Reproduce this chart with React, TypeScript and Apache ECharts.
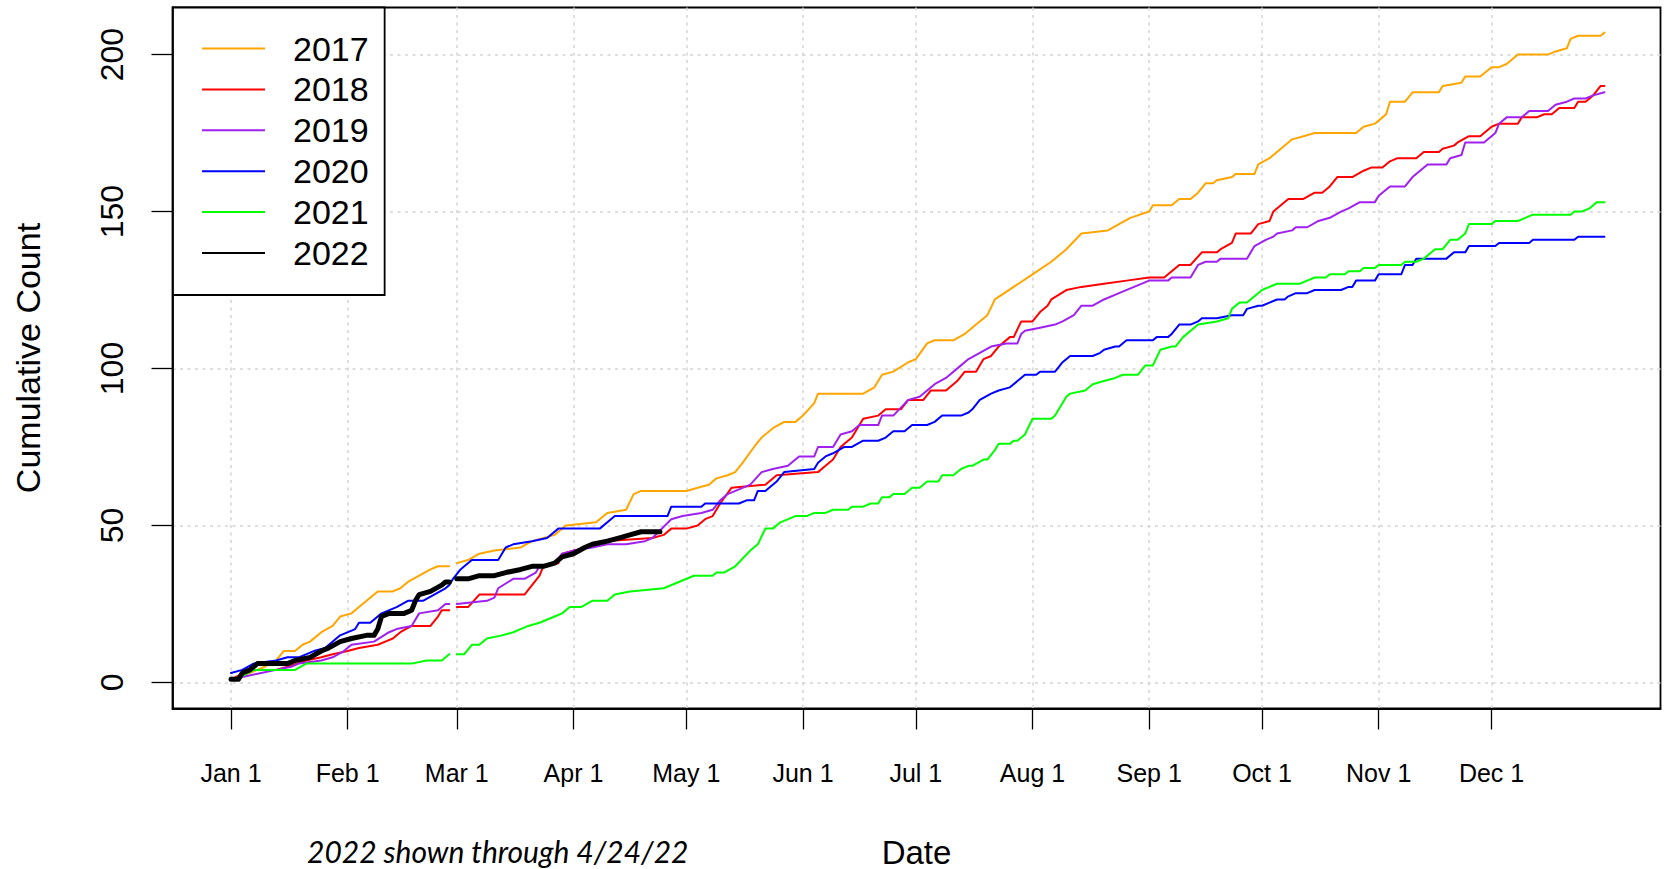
import React, { useEffect, useRef } from "react";
import * as echarts from "echarts";

// Day index within a leap-year calendar (Jan 1 = 0). Non-leap years have no Feb 29 (day 59).
const monthTickDays = [0, 31, 60, 91, 121, 152, 182, 213, 244, 274, 305, 335];
const monthTickLabels = ["Jan 1", "Feb 1", "Mar 1", "Apr 1", "May 1", "Jun 1", "Jul 1", "Aug 1", "Sep 1", "Oct 1", "Nov 1", "Dec 1"];
const yTicks = [0, 50, 100, 150, 200];
const years = ["2017", "2018", "2019", "2020", "2021", "2022"];

const data2017 = [
  [0, 1], [5, 3], [9, 5], [12, 7], [14, 10], [17, 10], [19, 12], [21, 13], [24, 16], [27, 18], [29, 21], [32, 22], [34, 24], [37, 27], [39, 29], [43, 29], [45, 30], [47, 32], [50, 34], [53, 36], [55, 37], [58, 37], [59, null],
  [60, 38], [63, 39], [66, 41], [70, 42], [77, 43], [80, 45], [86, 47], [89, 50], [97, 51], [100, 54], [105, 55], [107, 60], [109, 61], [121, 61], [124, 62], [127, 63], [129, 65], [132, 66], [134, 67], [136, 70], [139, 75], [141, 78], [144, 81], [147, 83], [150, 83], [152, 85], [155, 89], [156, 92], [168, 92], [171, 94], [173, 98], [176, 99], [180, 102], [182, 103], [185, 108], [187, 109], [192, 109], [195, 111], [198, 114], [201, 117], [203, 122], [208, 126], [213, 130], [218, 134], [222, 138], [226, 143], [233, 144], [239, 148], [244, 150], [245, 152], [250, 152], [252, 154], [255, 154], [257, 156], [259, 159], [261, 159], [262, 160], [266, 161], [267, 162], [272, 162], [273, 165], [276, 167], [279, 170], [282, 173], [285, 174], [288, 175], [299, 175], [301, 177], [304, 178], [306, 180], [307, 181], [308, 185], [312, 185], [314, 188], [321, 188], [322, 190], [327, 191], [328, 193], [332, 193], [335, 196], [337, 196], [339, 197], [342, 200], [350, 200], [352, 201], [355, 202], [356, 205], [358, 206], [364, 206], [365, 207]
];

const data2018 = [
  [0, 1], [5, 4], [12, 4], [15, 5], [20, 7], [24, 8], [27, 9], [31, 10], [34, 11], [39, 12], [41, 13], [43, 14], [45, 16], [48, 18], [53, 18], [55, 21], [56, 23], [58, 23], [59, null],
  [60, 24], [63, 24], [66, 28], [78, 28], [80, 31], [82, 34], [83, 37], [87, 38], [88, 41], [91, 42], [95, 43], [96, 44], [99, 45], [112, 46], [115, 47], [117, 49], [121, 49], [124, 50], [126, 52], [128, 53], [130, 57], [133, 62], [142, 63], [145, 66], [156, 67], [158, 69], [160, 71], [162, 75], [165, 78], [168, 84], [172, 85], [174, 87], [178, 87], [180, 90], [184, 90], [186, 93], [190, 93], [193, 96], [195, 99], [198, 99], [200, 103], [202, 104], [204, 107], [207, 110], [208, 110], [210, 115], [213, 115], [215, 118], [217, 120], [218, 122], [222, 125], [226, 126], [232, 127], [238, 128], [244, 129], [248, 129], [250, 131], [252, 133], [255, 133], [258, 137], [262, 137], [263, 138], [266, 140], [267, 143], [271, 143], [273, 146], [276, 147], [277, 150], [281, 154], [285, 154], [288, 156], [290, 156], [292, 158], [294, 161], [298, 161], [301, 163], [303, 164], [306, 164], [308, 166], [310, 167], [315, 167], [317, 169], [321, 169], [322, 170], [325, 171], [326, 172], [329, 174], [332, 174], [335, 177], [337, 178], [342, 178], [343, 180], [347, 180], [349, 181], [351, 181], [353, 183], [357, 183], [358, 185], [360, 185], [362, 187], [364, 190], [365, 190]
];

const data2019 = [
  [0, 1], [4, 2], [8, 3], [12, 4], [16, 5], [18, 6], [24, 7], [27, 8], [30, 10], [32, 12], [38, 13], [42, 16], [44, 17], [48, 18], [50, 22], [55, 23], [57, 25], [58, 25], [59, null],
  [60, 25], [68, 26], [70, 27], [71, 30], [75, 33], [78, 33], [81, 35], [82, 37], [86, 38], [88, 41], [91, 42], [96, 43], [100, 44], [105, 44], [110, 45], [112, 46], [117, 52], [120, 53], [125, 54], [128, 55], [130, 58], [132, 60], [138, 63], [141, 67], [144, 68], [148, 69], [150, 71], [151, 72], [155, 72], [156, 75], [160, 75], [162, 79], [165, 80], [167, 82], [172, 82], [173, 85], [176, 85], [180, 90], [183, 91], [187, 95], [190, 97], [194, 101], [196, 103], [199, 105], [202, 107], [206, 108], [209, 108], [210, 111], [211, 112], [215, 113], [219, 114], [221, 115], [224, 117], [226, 120], [229, 120], [232, 122], [236, 124], [240, 126], [244, 128], [249, 128], [250, 129], [255, 129], [257, 133], [259, 134], [262, 134], [263, 135], [270, 135], [272, 139], [275, 141], [277, 142], [278, 143], [282, 144], [283, 145], [286, 145], [289, 147], [292, 148], [295, 150], [297, 151], [300, 153], [304, 153], [305, 155], [308, 158], [312, 158], [314, 161], [316, 163], [318, 165], [323, 165], [324, 167], [327, 168], [328, 172], [333, 172], [336, 175], [337, 178], [339, 180], [343, 180], [345, 182], [350, 182], [352, 184], [355, 185], [357, 186], [360, 186], [362, 187], [365, 188]
];

const data2020 = [
  [0, 3], [3, 4], [6, 6], [12, 7], [15, 8], [18, 8], [22, 10], [25, 11], [29, 15], [33, 17], [34, 19], [37, 19], [40, 22], [44, 24], [47, 26], [51, 26], [54, 28], [57, 30], [58, 31], [59, 33], [61, 36], [62, 37], [64, 39], [71, 39], [73, 43], [75, 44], [80, 45], [84, 46], [87, 49], [98, 49], [102, 53], [116, 53], [117, 56], [125, 56], [126, 57], [135, 57], [137, 58], [139, 58], [140, 61], [142, 61], [145, 64], [147, 67], [155, 68], [156, 70], [158, 72], [160, 73], [163, 75], [165, 75], [168, 77], [172, 77], [174, 78], [176, 80], [179, 80], [181, 82], [185, 82], [187, 83], [189, 85], [194, 85], [196, 86], [197, 87], [199, 90], [202, 92], [204, 93], [207, 94], [211, 98], [214, 98], [215, 99], [219, 99], [221, 102], [223, 104], [229, 104], [231, 105], [232, 106], [235, 107], [236, 107], [238, 109], [245, 109], [246, 110], [249, 110], [250, 111], [252, 114], [255, 114], [257, 115], [258, 116], [262, 116], [266, 117], [269, 117], [270, 119], [273, 120], [274, 120], [276, 121], [278, 122], [280, 122], [281, 123], [283, 124], [286, 124], [288, 125], [295, 125], [297, 126], [298, 126], [299, 128], [304, 128], [305, 130], [311, 130], [312, 133], [314, 133], [315, 135], [323, 135], [325, 137], [328, 137], [329, 139], [336, 139], [337, 140], [345, 140], [346, 141], [357, 141], [358, 142], [365, 142]
];

const data2021 = [
  [0, 1], [3, 2], [6, 4], [17, 4], [20, 6], [48, 6], [52, 7], [56, 7], [58, 9], [59, null],
  [60, 9], [62, 9], [64, 12], [66, 12], [68, 14], [72, 15], [75, 16], [79, 18], [82, 19], [86, 21], [88, 22], [90, 24], [93, 24], [96, 26], [100, 26], [102, 28], [106, 29], [115, 30], [119, 32], [123, 34], [128, 34], [129, 35], [131, 35], [134, 37], [138, 42], [140, 44], [142, 49], [144, 49], [146, 51], [150, 53], [153, 53], [155, 54], [158, 54], [160, 55], [164, 55], [165, 56], [168, 56], [170, 57], [172, 57], [173, 59], [175, 59], [176, 60], [179, 60], [181, 62], [183, 62], [185, 64], [188, 64], [189, 66], [192, 66], [194, 68], [196, 69], [197, 69], [200, 71], [201, 71], [203, 74], [204, 76], [207, 76], [208, 77], [209, 77], [211, 79], [213, 84], [218, 84], [219, 85], [222, 91], [223, 92], [227, 93], [229, 95], [232, 96], [235, 97], [237, 98], [241, 98], [243, 101], [245, 101], [247, 106], [250, 107], [251, 107], [253, 110], [256, 113], [257, 114], [262, 115], [265, 116], [266, 119], [268, 121], [270, 121], [272, 123], [274, 125], [276, 126], [278, 127], [284, 127], [286, 128], [288, 129], [291, 129], [292, 130], [296, 130], [297, 131], [300, 131], [301, 132], [304, 132], [305, 133], [311, 133], [312, 134], [315, 134], [317, 135], [318, 136], [320, 138], [322, 138], [324, 141], [326, 141], [328, 143], [329, 146], [335, 146], [336, 147], [342, 147], [344, 148], [346, 149], [356, 149], [357, 150], [359, 150], [361, 151], [363, 153], [365, 153]
];

const data2022 = [
  [0, 1], [2, 1], [3, 3], [5, 4], [7, 6], [15, 6], [17, 7], [21, 8], [24, 10], [26, 11], [29, 13], [32, 14], [36, 15], [38, 15], [39, 17], [40, 21], [42, 22], [46, 22], [48, 23], [49, 26], [50, 28], [53, 29], [56, 31], [57, 32], [58, 32], [59, null],
  [60, 33], [63, 33], [66, 34], [70, 34], [73, 35], [77, 36], [80, 37], [83, 37], [86, 38], [88, 40], [91, 41], [94, 43], [96, 44], [100, 45], [103, 46], [106, 47], [109, 48], [114, 48]
];

const seriesData = [data2017, data2018, data2019, data2020, data2021, data2022];
const seriesColors = ["#FFA500", "#FF0000", "#A020F0", "#0000FF", "#00FF00", "#000000"];
const noteText = "2022 shown through 4/24/22";

const FONT = "Liberation Sans";

export default function App() {
  const ref = useRef<HTMLDivElement | null>(null);

  useEffect(() => {
    if (!ref.current) return;
    const chart = echarts.init(ref.current, undefined, { renderer: "svg" });

    const gridLine = { show: true, lineStyle: { color: "#d3d3d3", type: [3, 4.5], width: 1.5 } };

    const option: any = {
      animation: false,
      backgroundColor: "#ffffff",
      grid: {
        left: 172.5,
        right: 12.5,
        top: 7.5,
        bottom: 160.5,
        show: true,
        borderColor: "#000",
        borderWidth: 1.8,
        backgroundColor: "transparent",
        containLabel: false,
        outerBoundsMode: "none",
      },
      legend: {
        orient: "vertical",
        left: 173,
        top: 7.5,
        padding: [21, 16, 22, 29],
        icon: "rect",
        itemWidth: 63,
        itemHeight: 2,
        itemGap: 0.9,
        backgroundColor: "#fff",
        borderColor: "#000",
        borderWidth: 1.8,
        borderRadius: 0,
        textStyle: { fontSize: 34, lineHeight: 40, color: "#000", fontFamily: FONT, padding: [0, 0, 0, 23] },
        data: years,
        selectedMode: false,
      },
      xAxis: {
        type: "value",
        min: -15.55,
        max: 379.9,
        axisLine: { show: true, onZero: false, lineStyle: { color: "#000", width: 1.8 } },
        axisTick: { show: true, inside: false, length: 21, lineStyle: { color: "#000", width: 1.3 }, customValues: monthTickDays },
        axisLabel: {
          customValues: monthTickDays,
          formatter: (v: number) => {
            const i = monthTickDays.indexOf(Math.round(v));
            return i >= 0 ? monthTickLabels[i] : "";
          },
          fontSize: 25,
          color: "#000",
          fontFamily: FONT,
          margin: 52,
        },
        splitLine: gridLine,
        name: "Date",
        nameLocation: "middle",
        nameGap: 127,
        nameTextStyle: { fontSize: 33, color: "#000", fontFamily: FONT },
      },
      yAxis: {
        type: "value",
        min: -8.3,
        max: 215,
        axisLine: { show: true, onZero: false, lineStyle: { color: "#000", width: 1.8 } },
        axisTick: { show: true, inside: false, length: 21, lineStyle: { color: "#000", width: 1.3 }, customValues: yTicks },
        axisLabel: {
          customValues: yTicks,
          rotate: 90,
          fontSize: 32,
          color: "#000",
          fontFamily: FONT,
          margin: 45,
        },
        splitLine: gridLine,
        name: "Cumulative Count",
        nameLocation: "middle",
        nameRotate: 90,
        nameGap: 127.5,
        nameTextStyle: { fontSize: 34, color: "#000", fontFamily: FONT },
      },
      graphic: [
        {
          type: "text",
          left: 307,
          top: 836,
          style: {
            text: noteText,
            fontSize: 30,
            fontStyle: "italic",
            fontFamily: "Lato",
            fill: "#000",
          },
        },
      ],
      series: years.map((y, i) => ({
        type: "line",
        name: y,
        data: seriesData[i],
        symbol: "none",
        showSymbol: false,
        connectNulls: false,
        silent: true,
        itemStyle: { color: seriesColors[i] },
        lineStyle: {
          color: seriesColors[i],
          width: y === "2022" ? 5 : 2,
          cap: "round",
          join: "round",
        },
      })),
    };

    chart.setOption(option);
    return () => chart.dispose();
  }, []);

  return (
    <div
      ref={ref}
      style={{ position: "absolute", left: 0, top: 0, width: 1673, height: 869, background: "#fff" }}
    />
  );
}
